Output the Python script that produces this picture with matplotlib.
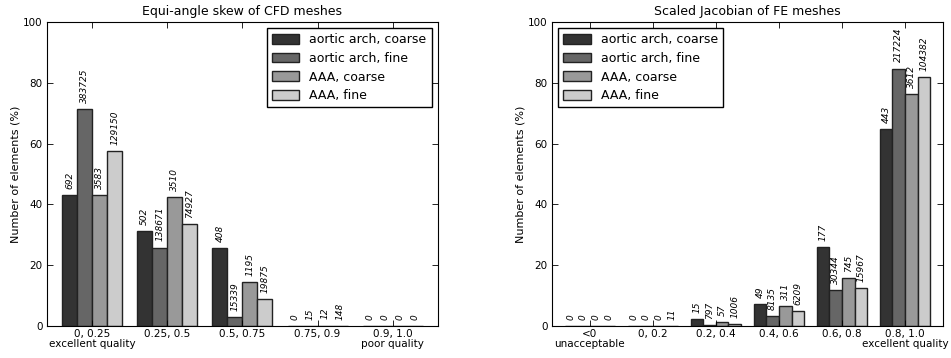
import matplotlib
matplotlib.use("Agg")
import matplotlib.pyplot as plt
import numpy as np

#Data##########################################################################
series = ["aortic arch, coarse", "aortic arch, fine", "AAA, coarse", "AAA, fine"]
colors = ["#333333", "#666666", "#999999", "#cccccc"]

# CFD meshes, equi-angle skew
cfd_bins = ["0, 0.25\nexcellent quality", "0.25, 0.5", "0.5, 0.75", "0.75, 0.9",
            "0.9, 1.0\npoor quality"]
cfd_pct = [
    [43.2, 31.3, 25.5, 0.0, 0.0],
    [71.4, 25.8, 2.85, 0.003, 0.0],
    [43.2, 42.3, 14.4, 0.14, 0.0],
    [57.6, 33.4, 8.87, 0.07, 0.0],
]
cfd_counts = [
    [692, 502, 408, 0, 0],
    [383725, 138671, 15339, 15, 0],
    [3583, 3510, 1195, 12, 0],
    [129150, 74927, 19875, 148, 0],
]

# FE meshes, scaled Jacobian
fe_bins = ["<0\nunacceptable", "0, 0.2", "0.2, 0.4", "0.4, 0.6", "0.6, 0.8",
           "0.8, 1.0\nexcellent quality"]
fe_pct = [
    [0.0, 0.0, 2.19, 7.16, 25.9, 64.8],
    [0.0, 0.0, 0.31, 3.17, 11.8, 84.7],
    [0.0, 0.0, 1.21, 6.58, 15.8, 76.4],
    [0.0, 0.009, 0.79, 4.87, 12.5, 81.8],
]
fe_counts = [
    [0, 0, 15, 49, 177, 443],
    [0, 0, 797, 8135, 30344, 217224],
    [0, 0, 57, 311, 745, 3612],
    [0, 11, 1006, 6209, 15967, 104382],
]

#Plot##########################################################################
plt.rcParams["font.family"] = "DejaVu Sans"
plt.rcParams["xtick.direction"] = "in"
plt.rcParams["ytick.direction"] = "in"
plt.rcParams["xtick.top"] = True
plt.rcParams["ytick.right"] = True


def grouped_bars(ax, bins, pct, counts, title, legend_loc):
    x = np.arange(len(bins))
    w = 0.2
    for k in range(len(series)):
        xs = x + k * w + w / 2
        ax.bar(xs, pct[k], w, color=colors[k], edgecolor="#222222",
               linewidth=1.0, label=series[k])
        for xi, h, c in zip(xs, pct[k], counts[k]):
            ax.text(xi, h + 2, str(c), rotation=90, ha="center", va="bottom",
                    fontsize=6.5, style="italic")
    ax.set_xlim(-0.2, len(bins))
    ax.set_ylim(0, 100)
    ax.set_yticks(range(0, 101, 20))
    ax.set_xticks(x + 0.4)
    ax.set_xticklabels(bins, fontsize=7.5, linespacing=1.05)
    ax.tick_params(axis="y", labelsize=7.5, length=4, width=0.6, pad=3)
    ax.tick_params(axis="x", length=4, width=0.6, pad=2)
    ax.set_ylabel("Number of elements (%)", fontsize=8, labelpad=2)
    ax.set_title(title, fontsize=9, pad=5)
    ax.legend(loc=legend_loc, fontsize=9, fancybox=False, edgecolor="black",
              framealpha=1, handlelength=2.2, handleheight=0.8,
              labelspacing=0.45, borderpad=0.4, handletextpad=0.8,
              borderaxespad=0.5)


fig = plt.figure(figsize=(9.51, 3.58), dpi=100)
ax1 = fig.add_axes([0.0494, 0.0894, 0.411, 0.849])
ax2 = fig.add_axes([0.5804, 0.0894, 0.411, 0.849])

grouped_bars(ax1, cfd_bins, cfd_pct, cfd_counts,
             "Equi-angle skew of CFD meshes", "upper right")
grouped_bars(ax2, fe_bins, fe_pct, fe_counts,
             "Scaled Jacobian of FE meshes", "upper left")

fig.savefig("out.png", dpi=100)
